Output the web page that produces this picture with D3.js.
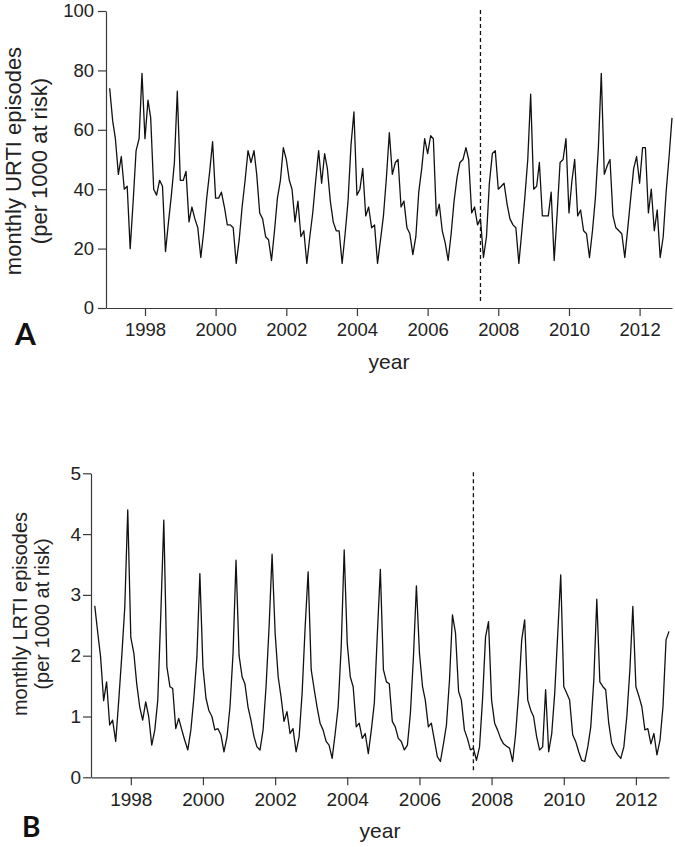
<!DOCTYPE html>
<html>
<head>
<meta charset="utf-8">
<script src="https://cdn.jsdelivr.net/npm/d3@7"></script>
<style>
  body { margin: 0; background: #fff; }
  svg { display: block; font-family: 'Liberation Sans', Arial, sans-serif; }
  .axis path, .axis line { stroke: #3a3a3a; stroke-width: 1.2; }
  .axis text { fill: #222; }
  .series-line { fill: none; stroke: #111; stroke-width: 1.3; stroke-linejoin: round; }
  .break-line { stroke: #111; stroke-width: 1.3; stroke-dasharray: 4,3; }
  .axis-title { fill: #222; }
  .panel-label { font-family: Lato, 'Open Sans', sans-serif; font-weight: 700; fill: #111; }
</style>
</head>
<body>
<div id="chart"></div>
<script>
// first month of both series (January 1997), one value per month up to Dec 2012
const startYear = 1997;

// monthly URTI episodes per 1000 at risk (panel A)
const urtiValues = [
  74, 63, 57, 45, 51, 40, 41, 20, 36, 53, 57, 79,
  57, 70, 64, 40, 38, 43, 41, 19, 29, 38, 49, 73,
  43, 43, 46, 29, 34, 30, 27, 17, 26, 37, 46, 56,
  37, 37, 39, 34, 28, 28, 27, 15, 23, 34, 43, 53,
  49, 53, 45, 32, 30, 24, 23, 16, 26, 37, 43, 54,
  50, 43, 40, 29, 36, 24, 26, 15, 24, 32, 43, 53,
  42, 52, 47, 36, 29, 26, 26, 15, 25, 36, 55, 66,
  38, 40, 47, 31, 34, 27, 28, 15, 23, 31, 44, 59,
  45, 49, 50, 34, 36, 27, 25, 18, 24, 39, 47, 57,
  52, 58, 57, 31, 35, 26, 22, 16, 25, 36, 44, 49,
  50, 54, 50, 32, 34, 28, 30, 17, 24, 42, 52, 53,
  40, 41, 42, 35, 30, 28, 27, 15, 26, 37, 50, 72,
  40, 41, 49, 31, 31, 31, 39, 16, 32, 49, 50, 57,
  32, 43, 50, 31, 33, 26, 25, 17, 26, 37, 54, 79,
  45, 48, 50, 31, 27, 26, 25, 17, 27, 37, 47, 51,
  42, 54, 54, 32, 40, 26, 33, 17, 24, 39, 51, 64
];

// monthly LRTI episodes per 1000 at risk (panel B)
const lrtiValues = [
  2.82, 2.37, 1.98, 1.26, 1.57, 0.86, 0.94, 0.59, 1.27, 1.98, 2.80, 4.40,
  2.30, 2.04, 1.55, 1.16, 0.94, 1.24, 1.00, 0.53, 0.78, 1.27, 2.70, 4.23,
  1.82, 1.49, 1.46, 0.80, 0.97, 0.78, 0.61, 0.45, 0.78, 1.30, 1.98, 3.35,
  1.82, 1.30, 1.10, 1.00, 0.78, 0.80, 0.70, 0.42, 0.67, 1.16, 2.04, 3.57,
  2.00, 1.65, 1.54, 1.16, 0.94, 0.67, 0.50, 0.45, 0.78, 1.49, 2.48, 3.67,
  2.37, 1.65, 1.33, 0.92, 1.08, 0.72, 0.80, 0.42, 0.67, 1.38, 2.48, 3.38,
  1.77, 1.44, 1.16, 0.89, 0.78, 0.59, 0.53, 0.31, 0.72, 1.16, 2.15, 3.74,
  2.20, 1.65, 1.49, 0.83, 0.89, 0.64, 0.72, 0.39, 0.78, 1.22, 2.37, 3.42,
  1.77, 1.57, 1.54, 0.92, 0.83, 0.64, 0.59, 0.45, 0.53, 1.05, 1.98, 3.15,
  2.04, 1.49, 1.27, 0.83, 0.89, 0.61, 0.34, 0.26, 0.55, 0.86, 1.60, 2.67,
  2.37, 1.41, 1.27, 0.78, 0.64, 0.45, 0.48, 0.28, 0.50, 1.27, 2.31, 2.56,
  1.27, 0.89, 0.78, 0.64, 0.55, 0.51, 0.48, 0.26, 0.72, 1.38, 2.26, 2.59,
  1.27, 1.10, 1.00, 0.67, 0.45, 0.50, 1.44, 0.42, 0.72, 1.38, 2.37, 3.33,
  1.49, 1.38, 1.27, 0.70, 0.59, 0.42, 0.28, 0.26, 0.50, 0.83, 1.60, 2.93,
  1.57, 1.49, 1.44, 0.89, 0.56, 0.45, 0.37, 0.31, 0.50, 1.00, 1.77, 2.81,
  1.49, 1.33, 1.16, 0.78, 0.80, 0.55, 0.72, 0.37, 0.61, 1.16, 2.26, 2.40
];

const yearTicks = [1998, 2000, 2002, 2004, 2006, 2008, 2010, 2012];
const urtiTicks = [0, 20, 40, 60, 80, 100];
const lrtiTicks = [0, 1, 2, 3, 4, 5];
const breakYear = 2007;
const breakMonth = 6; // July 2007, dashed vertical line

class TimeSeriesPanel {

  constructor(_svg, _config, _data) {
    this.svg = _svg;
    this.config = _config;
    this.data = _data;
    this.renderVis();
  }

  renderVis() {
    let vis = this;
    const c = vis.config;

    vis.xScale = d3.scaleTime()
        .domain([new Date(1996, 10, 24), new Date(2012, 11, 1)])
        .range([c.left, c.right]);

    vis.yScale = d3.scaleLinear()
        .domain([0, d3.max(c.yTicks)])
        .range([c.bottom, c.top]);

    const g = vis.svg.append('g');

    // Axes
    g.append('g')
        .attr('class', 'axis x-axis')
        .attr('transform', `translate(0,${c.bottom})`)
        .style('font-size', `${c.tickFont}px`)
        .call(d3.axisBottom(vis.xScale)
          .tickValues(yearTicks.map(y => new Date(y, 0, 1)))
          .tickFormat(d3.timeFormat('%Y'))
          .tickSize(8)
          .tickPadding(c.xTickPadding)
          .tickSizeOuter(0));

    g.append('g')
        .attr('class', 'axis y-axis')
        .attr('transform', `translate(${c.left},0)`)
        .style('font-size', `${c.tickFont}px`)
        .call(d3.axisLeft(vis.yScale)
          .tickValues(c.yTicks)
          .tickFormat(d3.format('d'))
          .tickSize(8)
          .tickPadding(c.yTickPadding)
          .tickSizeOuter(0));

    g.selectAll('.axis').attr('font-family', null);

    // Dashed line marking the break
    const bx = vis.xScale(new Date(breakYear, breakMonth, 1));
    g.append('line')
        .attr('class', 'break-line')
        .attr('x1', bx).attr('x2', bx)
        .attr('y1', c.top - 1)
        .attr('y2', c.bottom - 4);

    // Series line
    const line = d3.line()
        .x(d => vis.xScale(d.date))
        .y(d => vis.yScale(d.value));

    g.append('path')
        .datum(vis.data)
        .attr('class', 'series-line')
        .attr('d', line);

    // Axis titles
    const title = g.append('text')
        .attr('class', 'axis-title')
        .attr('text-anchor', 'middle')
        .style('font-size', `${c.titleFont}px`)
        .attr('transform', `translate(0,${c.titleCenterY}) rotate(-90)`);

    c.titleLines.forEach((t, i) => {
      title.append('tspan')
          .attr('x', 0)
          .attr('y', c.titleX[i])
          .text(t);
    });

    g.append('text')
        .attr('class', 'axis-title')
        .attr('text-anchor', 'middle')
        .attr('x', (c.left + c.right) / 2)
        .attr('y', c.yearBaseline)
        .style('font-size', '21px')
        .text('year');

    // Panel letter
    g.append('text')
        .attr('class', 'panel-label')
        .attr('x', c.labelX)
        .attr('y', c.labelY)
        .style('font-size', `${c.labelFont}px`)
        .text(c.label);
  }
}

const toSeries = values => values.map((v, i) => ({
  date: new Date(startYear, i, 1),
  value: v
}));

const svg = d3.select('#chart').append('svg')
    .attr('width', 675)
    .attr('height', 847);

new TimeSeriesPanel(svg, {
  left: 106, right: 672, top: 11, bottom: 308,
  yTicks: urtiTicks,
  tickFont: 18.5, xTickPadding: 6.5, yTickPadding: 4,
  titleLines: ['monthly URTI episodes', '(per 1000 at risk)'],
  titleFont: 22, titleX: [20.6, 47.3], titleCenterY: 161,
  yearBaseline: 369,
  label: 'A', labelX: 15, labelY: 345, labelFont: 30
}, toSeries(urtiValues));

new TimeSeriesPanel(svg, {
  left: 91, right: 669, top: 473.3, bottom: 777.3,
  yTicks: lrtiTicks,
  tickFont: 19, xTickPadding: 7.4, yTickPadding: 2,
  titleLines: ['monthly LRTI episodes', '(per 1000 at risk)'],
  titleFont: 20, titleX: [27, 49], titleCenterY: 614,
  yearBaseline: 838,
  label: 'B', labelX: 22, labelY: 837, labelFont: 28
}, toSeries(lrtiValues));
</script>
</body>
</html>
